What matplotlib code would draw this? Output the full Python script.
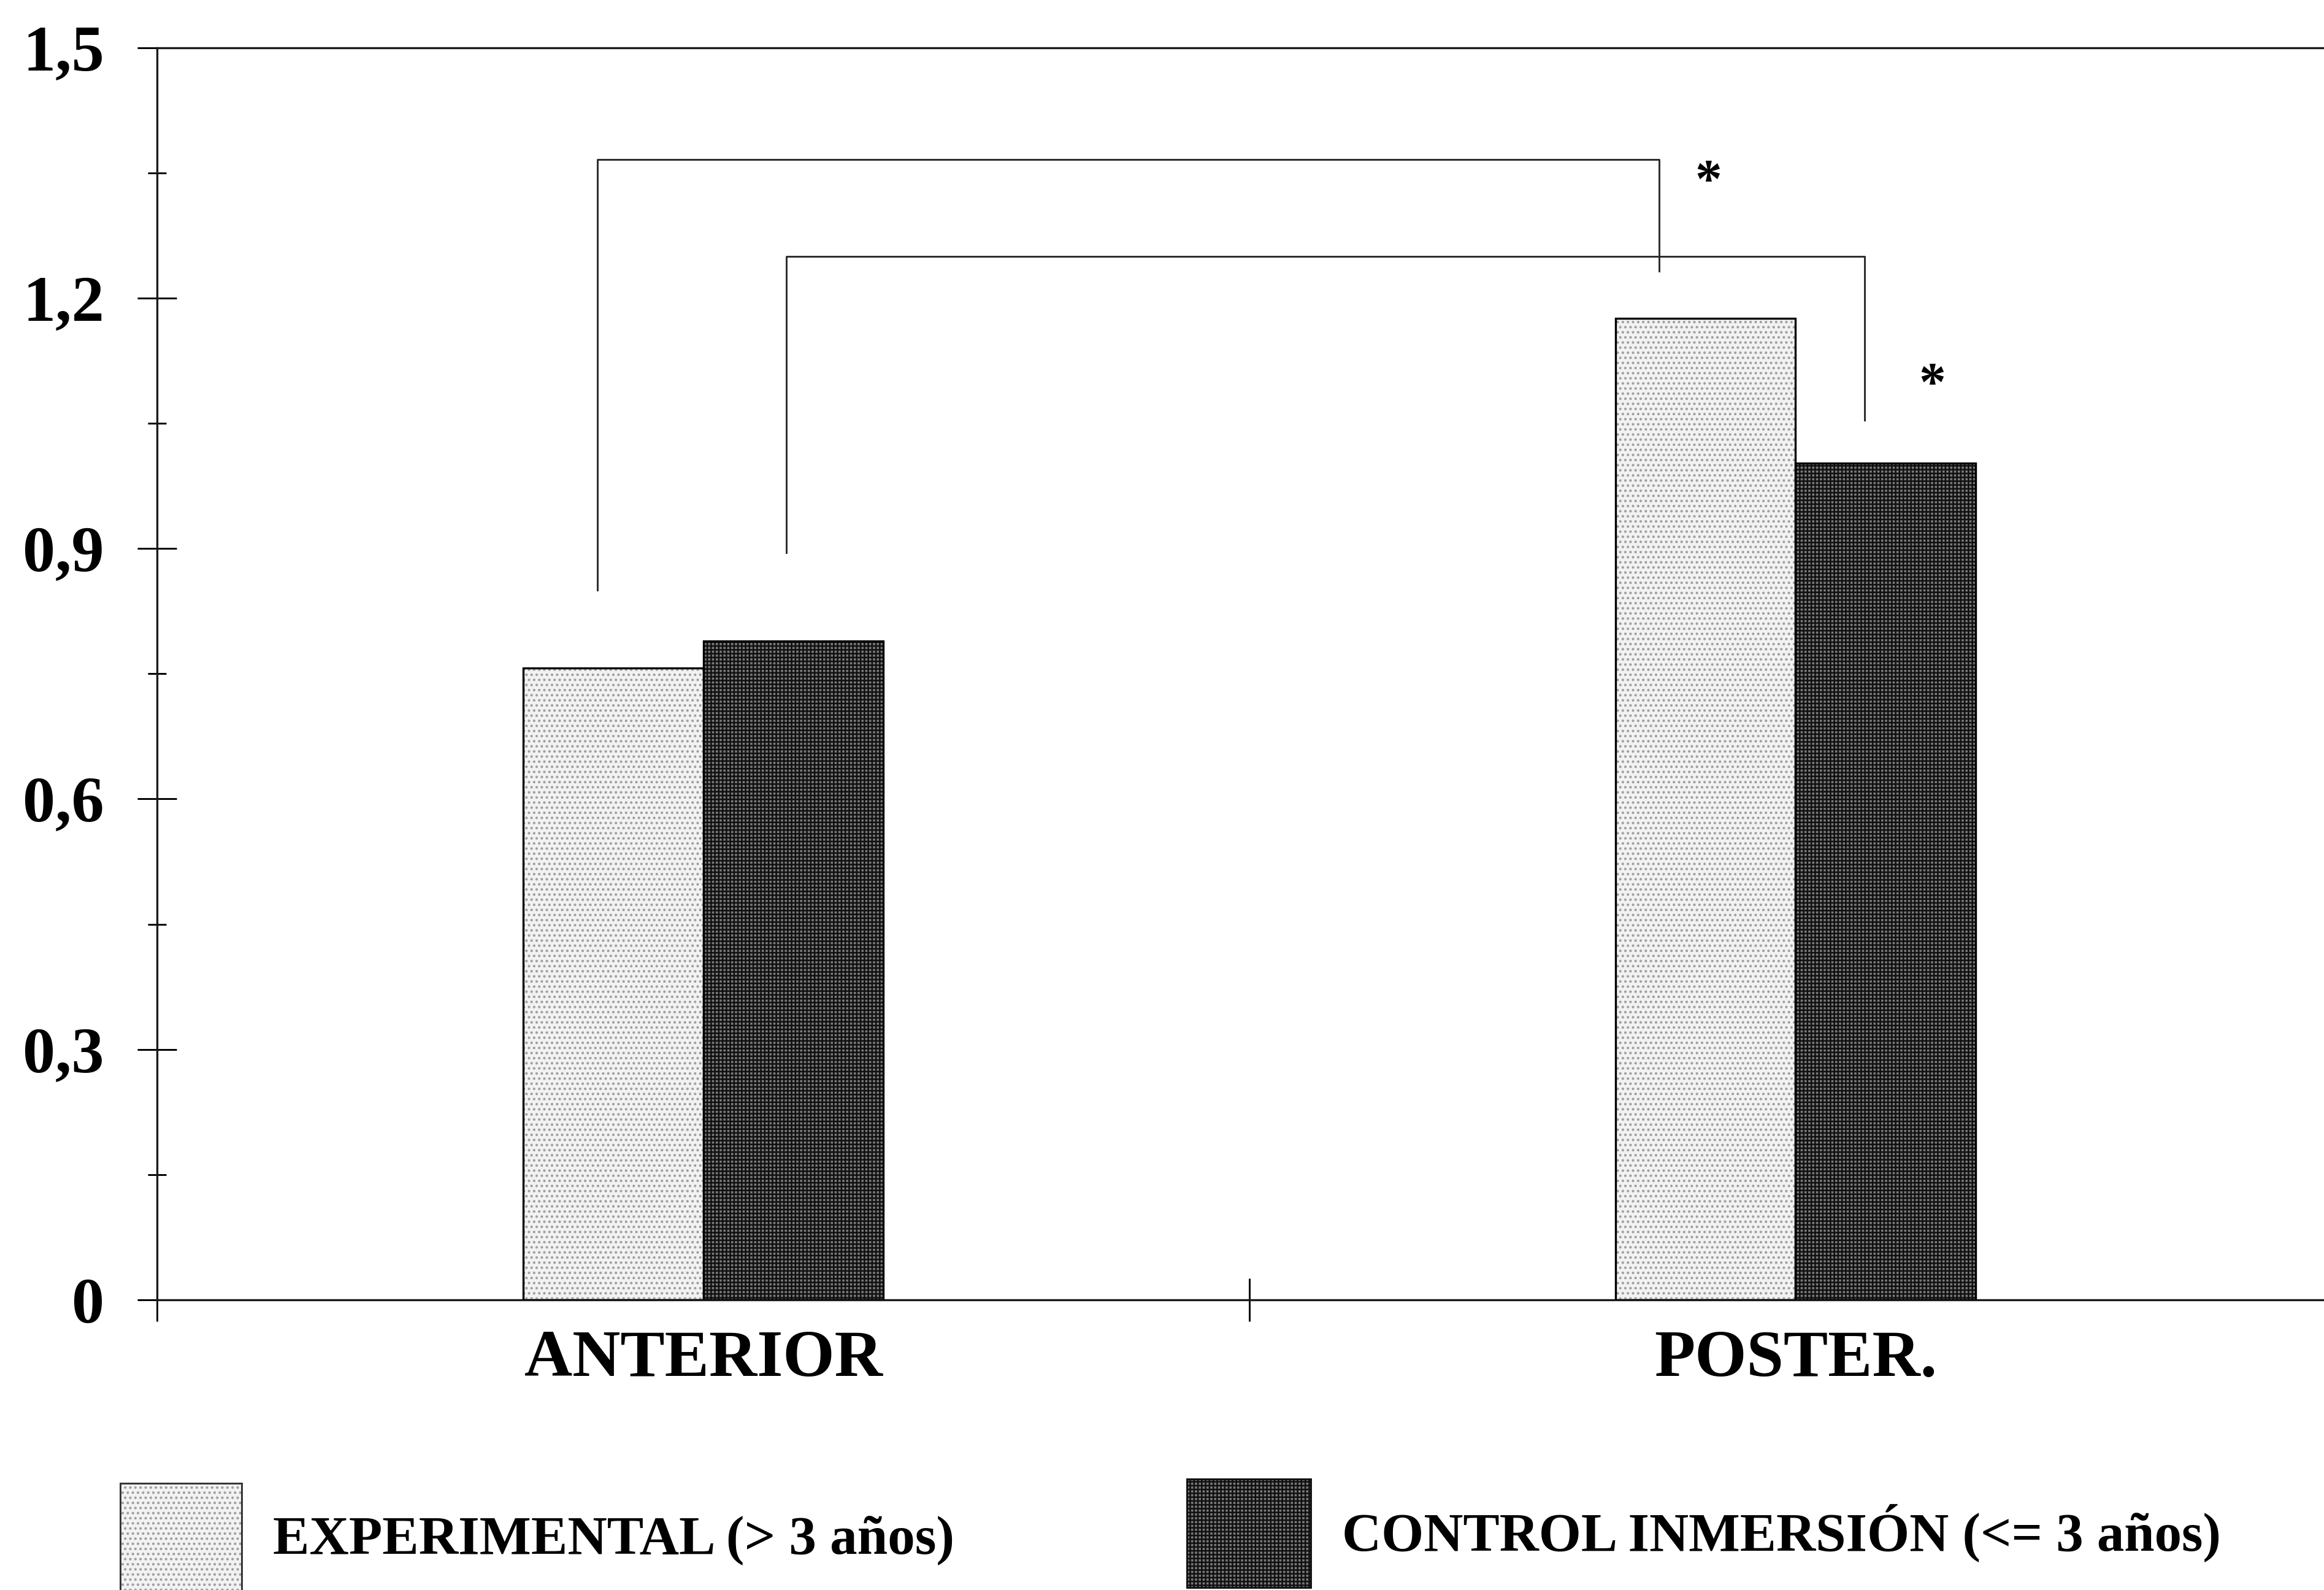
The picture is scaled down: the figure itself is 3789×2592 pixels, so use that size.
import matplotlib
matplotlib.use("Agg")
import matplotlib.pyplot as plt
from matplotlib.patches import Rectangle

# datos
zonas = ["ANTERIOR", "POSTER."]
experimental = [0.757, 1.176]
control = [0.789, 1.002]
yticks = [0, 0.3, 0.6, 0.9, 1.2, 1.5]
ytick_labels = ["0", "0,3", "0,6", "0,9", "1,2", "1,5"]
grupos = ["EXPERIMENTAL (> 3 años)", "CONTROL INMERSIÓN (<= 3 años)"]

plt.rcParams["font.family"] = ["Liberation Serif", "DejaVu Serif"]
plt.rcParams["font.weight"] = "bold"
plt.rcParams["hatch.linewidth"] = 0.6

# estilos de relleno (fondo, color trama, trama)
estilo_exp = ("#f2f2f2", "#a0a0a0", "......")
estilo_ctrl = ("#787878", "#101010", "++++++++")

fig = plt.figure(figsize=(3789 / 300, 2592 / 300), dpi=300)
ax = fig.add_axes([0.0676, 0.1825, 0.940, 0.7875])

x = list(range(len(zonas)))
w = 0.165


def barras(xs, vals, estilo):
    fondo, trama_color, trama = estilo
    ax.bar(xs, vals, w, color=fondo, edgecolor="none", zorder=2)
    ax.bar(xs, vals, w, color="none", edgecolor=trama_color, hatch=trama,
           linewidth=0, zorder=3)
    ax.bar(xs, vals, w, color="none", edgecolor="black", linewidth=0.8, zorder=4)


barras([i - w / 2 for i in x], experimental, estilo_exp)
barras([i + w / 2 for i in x], control, estilo_ctrl)

# corchetes de comparación
lc = "#2a2a2a"
ax.plot([-0.097, -0.097, 0.875, 0.875], [0.85, 1.366, 1.366, 1.232],
        color=lc, linewidth=0.7, zorder=5)
ax.plot([0.076, 0.076, 1.063, 1.063], [0.895, 1.25, 1.25, 1.054],
        color=lc, linewidth=0.7, zorder=5)
ax.text(0.92, 1.322, "*", fontsize=21, ha="center", va="baseline")
ax.text(1.125, 1.079, "*", fontsize=21, ha="center", va="baseline")

ax.set_xlim(-0.5, 1.5)
ax.set_ylim(0, 1.5)

ax.spines["right"].set_visible(False)
for s in ["left", "bottom", "top"]:
    ax.spines[s].set_linewidth(0.8)
    ax.spines[s].set_color("#1a1a1a")

ax.set_yticks(yticks)
ax.set_yticklabels(ytick_labels)
ax.set_yticks([0.15, 0.45, 0.75, 1.05, 1.35], minor=True)
ax.tick_params(axis="y", which="major", direction="inout", length=15.4,
               width=0.7, pad=13.0, labelsize=25.5)
ax.tick_params(axis="y", which="minor", direction="inout", length=7.2, width=0.7)

ax.set_xticks(x)
ax.set_xticklabels(zonas)
ax.set_xticks([-0.5, 0.5, 1.5], minor=True)
ax.tick_params(axis="x", which="major", length=0, pad=11.8, labelsize=26)
ax.tick_params(axis="x", which="minor", direction="inout", length=16.8, width=0.7)

# leyenda
fig.patches.append(Rectangle((0.0517, -0.01), 0.0523, 0.0771, transform=fig.transFigure,
                             facecolor=estilo_exp[0], edgecolor="none", figure=fig))
fig.patches.append(Rectangle((0.0517, -0.01), 0.0523, 0.0771, transform=fig.transFigure,
                             facecolor="none", edgecolor=estilo_exp[1], hatch=estilo_exp[2],
                             linewidth=0, figure=fig))
fig.patches.append(Rectangle((0.0517, -0.01), 0.0523, 0.0771, transform=fig.transFigure,
                             facecolor="none", edgecolor="#333333", linewidth=0.7, figure=fig))

fig.patches.append(Rectangle((0.5107, 0.0015), 0.0533, 0.0683, transform=fig.transFigure,
                             facecolor=estilo_ctrl[0], edgecolor="none", figure=fig))
fig.patches.append(Rectangle((0.5107, 0.0015), 0.0533, 0.0683, transform=fig.transFigure,
                             facecolor="none", edgecolor=estilo_ctrl[1], hatch=estilo_ctrl[2],
                             linewidth=0, figure=fig))
fig.patches.append(Rectangle((0.5107, 0.0015), 0.0533, 0.0683, transform=fig.transFigure,
                             facecolor="none", edgecolor="#111111", linewidth=0.7, figure=fig))

fig.text(0.1175, 0.0231, grupos[0], fontsize=21.4, ha="left", va="baseline")
fig.text(0.5775, 0.0247, grupos[1], fontsize=21.3, ha="left", va="baseline")

fig.savefig("out.png", dpi=300)
